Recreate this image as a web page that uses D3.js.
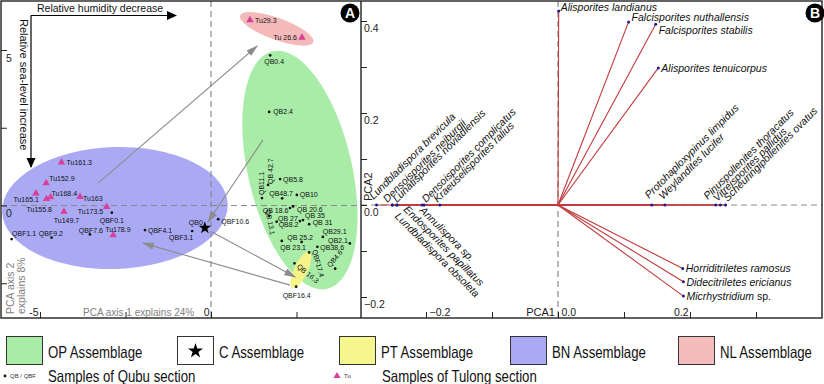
<!DOCTYPE html>
<html><head><meta charset="utf-8">
<script src="https://cdn.jsdelivr.net/npm/d3@7"></script>
<style>
body{margin:0;background:#fff}
svg{display:block;font-family:"Liberation Sans",Arial,sans-serif}
</style>
</head><body>
<svg id="chart" width="824" height="384"></svg>
<script>
// ---------------- DATA ----------------
const qubuNames = ["QB0.4","QB2.4","QBF0.1","QBF7.6","QBF9.2","QBF1.1","QBF4.1","QBF3.1","QBF10.6",
  "QB11.1","QB42.7","QB5.8","QB48.7","QB10","QB18.6","QB20.6","QB13.1","QB27","QB35","QB8.2","QB31",
  "QB29.1","QB25.2","QB23.1","QB2.1","QB38.6","QBF17.4","QB4.6","QB16.3","QBF16.4"];
const qubuPC1 = [1.73,1.70,-2.90,-3.54,-4.66,-5.83,-1.93,-0.55,0.21,
  1.49,1.67,2.02,2.08,2.51,2.31,2.40,1.70,2.60,2.69,1.92,2.87,
  3.27,2.65,2.07,4.06,3.11,2.87,3.63,2.44,2.49];
const qubuPC2 = [4.83,3.01,-0.23,-0.93,-1.03,-1.08,-0.79,-0.82,-0.44,
  0.24,0.66,0.85,0.23,0.34,-0.08,-0.03,-0.33,-0.50,-0.47,-0.52,-0.60,
  -1.01,-1.17,-1.14,-1.22,-1.33,-1.51,-2.03,-1.86,-2.61];

const tulongNames = ["Tu29.3","Tu 26.6","Tu161.3","Tu152.9","Tu165.1","Tu155.8","Tu168.4","Tu163","Tu149.7","Tu173.5","Tu178.9"];
const tulongPC1 = [1.14,2.66,-4.37,-4.82,-5.12,-4.81,-4.69,-3.83,-4.30,-3.05,-2.86];
const tulongPC2 = [5.96,5.40,1.39,0.72,0.39,0.21,0.27,0.28,-0.20,-0.04,-0.95];

const cNames = ["QB0"];
const cPC1 = [-0.18];
const cPC2 = [-0.72];

const envNames = ["OP","BN","NL","PT"];
const envCX = [2.60,-2.81,1.92,2.63];
const envCY = [1.14,-0.08,5.68,-2.07];
const envRX = [1.52,3.30,1.14,0.20];
const envRY = [3.92,1.96,0.35,0.64];
const envRot = [-13,-2,20,25];

const arrowX1 = [-3.30,1.52,0.03,2.31];
const arrowY1 = [0.72,2.11,-0.85,-2.56];
const arrowX2 = [1.35,-0.09,2.46,-1.99];
const arrowY2 = [5.13,-0.53,-2.30,-1.21];

const speciesNames = ["Alisporites landianus","Falcisporites nuthallensis","Falcisporites stabilis","Alisporites tenuicorpus",
  "Protohaploxypinus limpidus","Weylandites lucifer","Pinuspollenites thoracatus","Vitreisporites pallidus","Scheuringipollenites ovatus",
  "Horriditriletes ramosus","Didecitriletes ericianus","Micrhystridium sp.",
  "Lundbladispora brevicula","Densoisporites nejburgii","Lundbladispora obsoleta","Lunatisporites noviaulensis","Endosporites papillatus",
  "Annulispora sp.","Densoisporites complicatus","Kraeuselisporites ralius"];
const speciesPC1 = [0.001,0.107,0.148,0.152,0.142,0.162,0.239,0.246,0.254,0.189,0.190,0.190,
  -0.275,-0.251,-0.251,-0.244,-0.244,-0.206,-0.203,-0.179];
const speciesPC2 = [0.422,0.398,0.393,0.298,0,0,0,0,0,-0.138,-0.167,-0.198,0,0,0,0,0,0,0,0];

const ticksAx = [-5,-2.5,0,2.5], labelsAx = [-5,0];
const ticksAy = [5,2.5,0,-2.5], labelsAy = [5,0];
const ticksBx = [-0.2,-0.1,0,0.1,0.2,0.3], labelsBx = [-0.2,0,0.2];
const ticksBy = [0.4,0.3,0.2,0.1,0,-0.1,-0.2], labelsBy = [0.4,0.2,0,-0.2];

const legendLabels = ["OP Assemblage","C Assemblage","PT Assemblage","BN Assemblage","NL Assemblage"];
const legendColors = ["#a8eca8","#ffffff","#f6f68e","#aaaaf4","#f5bcbc"];

// ---------------- LAYOUT / STYLE ----------------
const colGreen="#a8eca8", colBlue="#aaaaf4", colPink="#f4baba", colYellow="#f4f48a";
const envColors = [colGreen,colBlue,colPink,colYellow];
const triColor="#d9409c", vecColor="#c0393b", dotBlue="#1c1c90", dashCol="#8a8a8a";

const labA = {
 "Tu29.3":[5,2.5,"start",0],"Tu 26.6":[-5,2.5,"end",0],"Tu161.3":[5,2.5,"start",0],"Tu152.9":[3,-2,"start",0],
 "Tu165.1":[3,9,"end",0],"Tu155.8":[5.5,13.5,"end",0],"Tu168.4":[1,-1.5,"start",0],"Tu163":[3,4,"start",0],
 "Tu149.7":[2.5,11,"middle",0],"Tu173.5":[-3.5,7,"end",0],"Tu178.9":[4.7,-3.5,"middle",0],
 "QB0.4":[4,9,"middle",0],"QB2.4":[4,2.5,"start",0],"QBF0.1":[0,10,"middle",0],"QBF7.6":[1,-1.5,"middle",0],
 "QBF9.2":[-0.7,-2,"middle",0],"QBF1.1":[0.5,-3.5,"start",0],"QBF4.1":[3,2.5,"start",0],"QBF3.1":[1,8.5,"end",0],
 "QBF10.6":[3,4.5,"start",0],"QB0":[-2,-3,"end",0],
 "QB11.1":[2.5,-3,"start",-90],"QB42.7":[5,-1,"start",-90],"QB5.8":[3,2.5,"start",0],"QB48.7":[-1,-2.5,"middle",0],
 "QB10":[3,2.5,"start",0],"QB18.6":[-1.5,5,"end",0],"QB20.6":[4,6,"start",0],"QB13.1":[-3.5,-6,"start",80],
 "QB27":[-2,0,"end",0],"QB35":[2,-2,"start",0],"QB8.2":[2,5.5,"start",0],"QB31":[3.5,0.5,"start",0],
 "QB29.1":[0,-3,"start",0],"QB25.2":[-1.5,-1.5,"middle",0],"QB23.1":[-1.5,9,"start",0],"QB2.1":[-2,0,"end",0],
 "QB38.6":[3,3,"start",0],"QBF17.4":[3,-2,"start",75],"QB4.6":[-5,-1,"start",-50],"QB16.3":[2,4,"start",40],
 "QBF16.4":[0.5,11,"middle",0]
};
const labelText = {"QB18.6":"QB 18.6","QB20.6":"QB 20.6","QB13.1":"QB 13.1","QB27":"QB 27","QB35":"QB 35",
 "QB31":"QB 31","QB25.2":"QB 25.2","QB23.1":"QB 23.1","QB16.3":"QB 16.3","QB42.7":"QB 42.7"};
const labB = {
 "Alisporites landianus":[2,0,"start",0],"Falcisporites nuthallensis":[3,-1,"start",0],
 "Falcisporites stabilis":[3,10,"start",0],"Alisporites tenuicorpus":[3,4,"start",0],
 "Protohaploxypinus limpidus":[-2.7,-6,"start",-45],"Weylandites lucifer":[-2,-5,"start",-45],
 "Pinuspollenites thoracatus":[-8,-5,"start",-45],"Vitreisporites pallidus":[-3,-3,"start",-45],
 "Scheuringipollenites ovatus":[2,-3,"start",-45],
 "Horriditriletes ramosus":[3,4,"start",0],"Didecitriletes ericianus":[3,4,"start",0],"Micrhystridium sp.":[3,4,"start",0],
 "Lundbladispora brevicula":[-3,-5,"start",-45],"Densoisporites nejburgii":[-5,-2,"start",-45],
 "Lunatisporites noviaulensis":[0,-2,"start",-45],"Densoisporites complicatus":[2,-2,"start",-45],
 "Kraeuselisporites ralius":[-2,-2,"start",-45],
 "Lundbladispora obsoleta":[2,12,"start",45],"Endosporites papillatus":[6,5,"start",45],"Annulispora sp.":[-3,6,"start",45]
};

const svg = d3.select("#chart");
const xA = d3.scaleLinear().domain([-5,0]).range([40,211]);
const yA = d3.scaleLinear().domain([5,0]).range([50,205.5]);
const xB = d3.scaleLinear().domain([-0.2,0.2]).range([426,690]);
const yB = d3.scaleLinear().domain([0.4,-0.2]).range([21,297]);
const topY=1, bottomY=318, leftA=1, midX=361, rightB=822;

const defs = svg.append("defs");
defs.append("clipPath").attr("id","clipA").append("rect").attr("x",leftA).attr("y",topY).attr("width",midX-leftA).attr("height",bottomY-topY);
defs.append("clipPath").attr("id","clipB").append("rect").attr("x",midX).attr("y",topY).attr("width",rightB-midX).attr("height",bottomY-topY);
defs.append("marker").attr("id","grayHead").attr("markerUnits","userSpaceOnUse")
  .attr("viewBox","0 -5 12 10").attr("refX",11).attr("refY",0).attr("markerWidth",12).attr("markerHeight",10).attr("orient","auto")
  .append("path").attr("d","M0,-3.6L12,0L0,3.6Z").attr("fill","#8c8c8c");
defs.append("marker").attr("id","blackHead").attr("markerUnits","userSpaceOnUse")
  .attr("viewBox","0 -5 10 10").attr("refX",9).attr("refY",0).attr("markerWidth",10).attr("markerHeight",10).attr("orient","auto")
  .append("path").attr("d","M0,-4.5L10,0L0,4.5Z").attr("fill","#000");

// ---------- Panel A ----------
const gA = svg.append("g").attr("clip-path","url(#clipA)");
envNames.forEach((n,i)=>{
  gA.append("ellipse")
    .attr("transform",`translate(${xA(envCX[i])},${yA(envCY[i])}) rotate(${envRot[i]})`)
    .attr("rx", xA(envRX[i])-xA(0)).attr("ry", yA(0)-yA(envRY[i]))
    .attr("fill", envColors[i]);
});
gA.append("line").attr("x1",leftA).attr("x2",midX).attr("y1",yA(0)).attr("y2",yA(0))
  .attr("stroke",dashCol).attr("stroke-width",1.2).attr("stroke-dasharray","6,4");
gA.append("line").attr("x1",xA(0)).attr("x2",xA(0)).attr("y1",topY).attr("y2",bottomY)
  .attr("stroke",dashCol).attr("stroke-width",1.2).attr("stroke-dasharray","6,4");

arrowX1.forEach((d,i)=>{
  gA.append("line").attr("x1",xA(arrowX1[i])).attr("y1",yA(arrowY1[i]))
    .attr("x2",xA(arrowX2[i])).attr("y2",yA(arrowY2[i]))
    .attr("stroke","#8c8c8c").attr("stroke-width",1.1).attr("marker-end","url(#grayHead)");
});

function placeLabel(g, text, x, y, spec, size){
  const [dx,dy,anchor,rot] = spec || [3,2.5,"start",0];
  g.append("text").attr("transform",`translate(${x+dx},${y+dy}) rotate(${rot})`)
    .attr("text-anchor",anchor).attr("font-size",size).attr("fill","#111").text(text);
}
const qubu = qubuNames.map((n,i)=>({n, x:qubuPC1[i], y:qubuPC2[i]}));
const tulong = tulongNames.map((n,i)=>({n, x:tulongPC1[i], y:tulongPC2[i]}));
const cAss = cNames.map((n,i)=>({n, x:cPC1[i], y:cPC2[i]}));

gA.selectAll("circle.q").data(qubu).join("circle").attr("class","q")
  .attr("cx",d=>xA(d.x)).attr("cy",d=>yA(d.y)).attr("r",1.35).attr("fill","#111");
gA.selectAll("path.t").data(tulong).join("path").attr("class","t")
  .attr("d", d3.symbol(d3.symbolTriangle, 24)())
  .attr("transform",d=>`translate(${xA(d.x)},${yA(d.y)})`).attr("fill",triColor);
gA.selectAll("path.c").data(cAss).join("path").attr("class","c")
  .attr("d", d3.symbol(d3.symbolStar, 48)())
  .attr("transform",d=>`translate(${xA(d.x)},${yA(d.y)})`).attr("fill","#000");

[...qubu, ...tulong, ...cAss].forEach(d=>{
  placeLabel(gA, labelText[d.n]||d.n, xA(d.x), yA(d.y), labA[d.n], 7);
});

gA.append("text").attr("x",37).attr("y",12).attr("font-size",10.5).attr("fill","#111").text("Relative humidity decrease");
gA.append("line").attr("x1",31).attr("y1",15.5).attr("x2",176).attr("y2",15.5).attr("stroke","#000").attr("stroke-width",1.2).attr("marker-end","url(#blackHead)");
gA.append("line").attr("x1",31).attr("y1",15.5).attr("x2",31).attr("y2",167).attr("stroke","#000").attr("stroke-width",1.2).attr("marker-end","url(#blackHead)");
gA.append("text").attr("transform","translate(20,19) rotate(90)").attr("font-size",11).attr("fill","#111").text("Relative sea-level increase");
gA.append("text").attr("transform","translate(14,314) rotate(-90)").attr("font-size",10.5).attr("fill","#808080").text("PCA axis 2");
gA.append("text").attr("transform","translate(25,314) rotate(-90)").attr("font-size",10.5).attr("fill","#808080").text("explains 8%");
gA.append("text").attr("x",83).attr("y",316).attr("font-size",10).attr("fill","#808080").text("PCA axis 1 explains 24%");

const axA_y = svg.append("g").attr("transform",`translate(${leftA},0)`)
  .call(d3.axisRight(yA).tickValues(ticksAy).tickSize(6).tickFormat(d=>labelsAy.includes(d)?d:""));
axA_y.select(".domain").remove();
axA_y.selectAll("text").attr("x",5).attr("dy","1.05em").attr("font-size",10.5).attr("fill","#222").attr("font-family","Liberation Sans, Arial, sans-serif");
axA_y.selectAll("line").attr("stroke","#222");
const axA_x = svg.append("g").attr("transform",`translate(0,${bottomY})`)
  .call(d3.axisTop(xA).tickValues(ticksAx).tickSize(6).tickFormat(d=>labelsAx.includes(d)?d:""));
axA_x.select(".domain").remove();
axA_x.selectAll("text").attr("x",-2).attr("y",-2).attr("dy",0).attr("text-anchor","end").attr("font-size",10.5).attr("fill","#222").attr("font-family","Liberation Sans, Arial, sans-serif");
axA_x.selectAll("line").attr("stroke","#222");

// ---------- Panel B ----------
const gB = svg.append("g").attr("clip-path","url(#clipB)");
gB.append("line").attr("x1",midX).attr("x2",rightB).attr("y1",yB(0)).attr("y2",yB(0))
  .attr("stroke",dashCol).attr("stroke-width",1.2).attr("stroke-dasharray","6,4");
gB.append("line").attr("x1",xB(0)).attr("x2",xB(0)).attr("y1",topY).attr("y2",bottomY)
  .attr("stroke",dashCol).attr("stroke-width",1.2).attr("stroke-dasharray","6,4");
const species = speciesNames.map((n,i)=>({n, x:speciesPC1[i], y:speciesPC2[i]}));
gB.selectAll("line.v").data(species).join("line").attr("class","v")
  .attr("x1",xB(0)).attr("y1",yB(0)).attr("x2",d=>xB(d.x)).attr("y2",d=>yB(d.y))
  .attr("stroke",vecColor).attr("stroke-width",1.1);
gB.selectAll("circle.s").data(species).join("circle").attr("class","s")
  .attr("cx",d=>xB(d.x)).attr("cy",d=>yB(d.y)).attr("r",1.5).attr("fill",dotBlue);
species.forEach(d=>{
  const [dx,dy,anchor,rot] = labB[d.n];
  const t = gB.append("text").attr("transform",`translate(${xB(d.x)+dx},${yB(d.y)+dy}) rotate(${rot})`)
    .attr("text-anchor",anchor).attr("font-size",10.5).attr("fill","#111");
  if (d.n.endsWith(" sp.") && rot===0) {
    t.append("tspan").attr("font-style","italic").text(d.n.replace(" sp.",""));
    t.append("tspan").text(" sp.");
  } else {
    t.attr("font-style","italic").text(d.n);
  }
});
gB.append("text").attr("transform","translate(372,201) rotate(-90)").attr("font-size",11).attr("fill","#222").text("PCA2");
gB.append("text").attr("x",555).attr("y",316).attr("text-anchor","end").attr("font-size",11).attr("fill","#222").text("PCA1");

const axB_y = svg.append("g").attr("transform",`translate(${midX},0)`)
  .call(d3.axisRight(yB).tickValues(ticksBy).tickSize(6).tickFormat(d=>labelsBy.includes(d)?d3.format(".1f")(d):""));
axB_y.select(".domain").remove();
axB_y.selectAll("text").attr("x",3).attr("dy","1.0em").attr("font-size",10.5).attr("fill","#222").attr("font-family","Liberation Sans, Arial, sans-serif");
axB_y.selectAll("line").attr("stroke","#222");
const axB_x = svg.append("g").attr("transform",`translate(0,${bottomY})`)
  .call(d3.axisTop(xB).tickValues(ticksBx).tickSize(6).tickFormat(d=>labelsBx.includes(d)?d3.format(".1f")(d):""));
axB_x.select(".domain").remove();
axB_x.selectAll("text").attr("y",-2).attr("dy",0)
  .attr("x",d=>d>0?-2:3).attr("text-anchor",d=>d>0?"end":"start")
  .attr("font-size",10.5).attr("fill","#222").attr("font-family","Liberation Sans, Arial, sans-serif");
axB_x.selectAll("line").attr("stroke","#222");

svg.append("rect").attr("x",leftA).attr("y",topY).attr("width",rightB-leftA).attr("height",bottomY-topY)
  .attr("fill","none").attr("stroke","#222").attr("stroke-width",1.4);
svg.append("line").attr("x1",midX).attr("x2",midX).attr("y1",topY).attr("y2",bottomY).attr("stroke","#222").attr("stroke-width",1.4);

[["A",350],["B",815]].forEach(([t,x])=>{
  svg.append("circle").attr("cx",x).attr("cy",13).attr("r",9.5).attr("fill","#000");
  svg.append("text").attr("x",x).attr("y",18).attr("text-anchor","middle").attr("font-size",14).attr("font-weight","bold").attr("fill","#fff").text(t);
});

// ---------- Legend ----------
const legendX = [6,177,339,510,678];
const lg = svg.append("g").attr("font-family","'Liberation Sans',Arial,sans-serif");
function narrowText(x, y, txt, size){
  lg.append("text").attr("transform",`translate(${x},${y}) scale(0.8,1)`).attr("font-size",size).attr("fill","#111").text(txt);
}
legendLabels.forEach((l,i)=>{
  lg.append("rect").attr("x",legendX[i]+0.5).attr("y",336.5).attr("width",36).attr("height",28)
    .attr("fill",legendColors[i]).attr("stroke","#333").attr("stroke-width",1);
  narrowText(legendX[i]+42, 357.5, l, 16.5);
});
lg.append("path").attr("d",d3.symbol(d3.symbolStar,70)()).attr("transform",`translate(${legendX[1]+18.5},${351})`).attr("fill","#000");
lg.append("circle").attr("cx",5).attr("cy",376).attr("r",1.4).attr("fill","#111");
lg.append("text").attr("x",10).attr("y",378).attr("font-size",6).attr("fill","#333").text("QB / QBF");
narrowText(48, 381.5, "Samples of Qubu section", 16.5);
lg.append("path").attr("d",d3.symbol(d3.symbolTriangle,22)()).attr("transform","translate(337,376)").attr("fill",triColor);
lg.append("text").attr("x",344).attr("y",378).attr("font-size",6).attr("fill","#333").text("Tu");
narrowText(382, 381.5, "Samples of Tulong section", 16.5);
</script>
</body></html>
